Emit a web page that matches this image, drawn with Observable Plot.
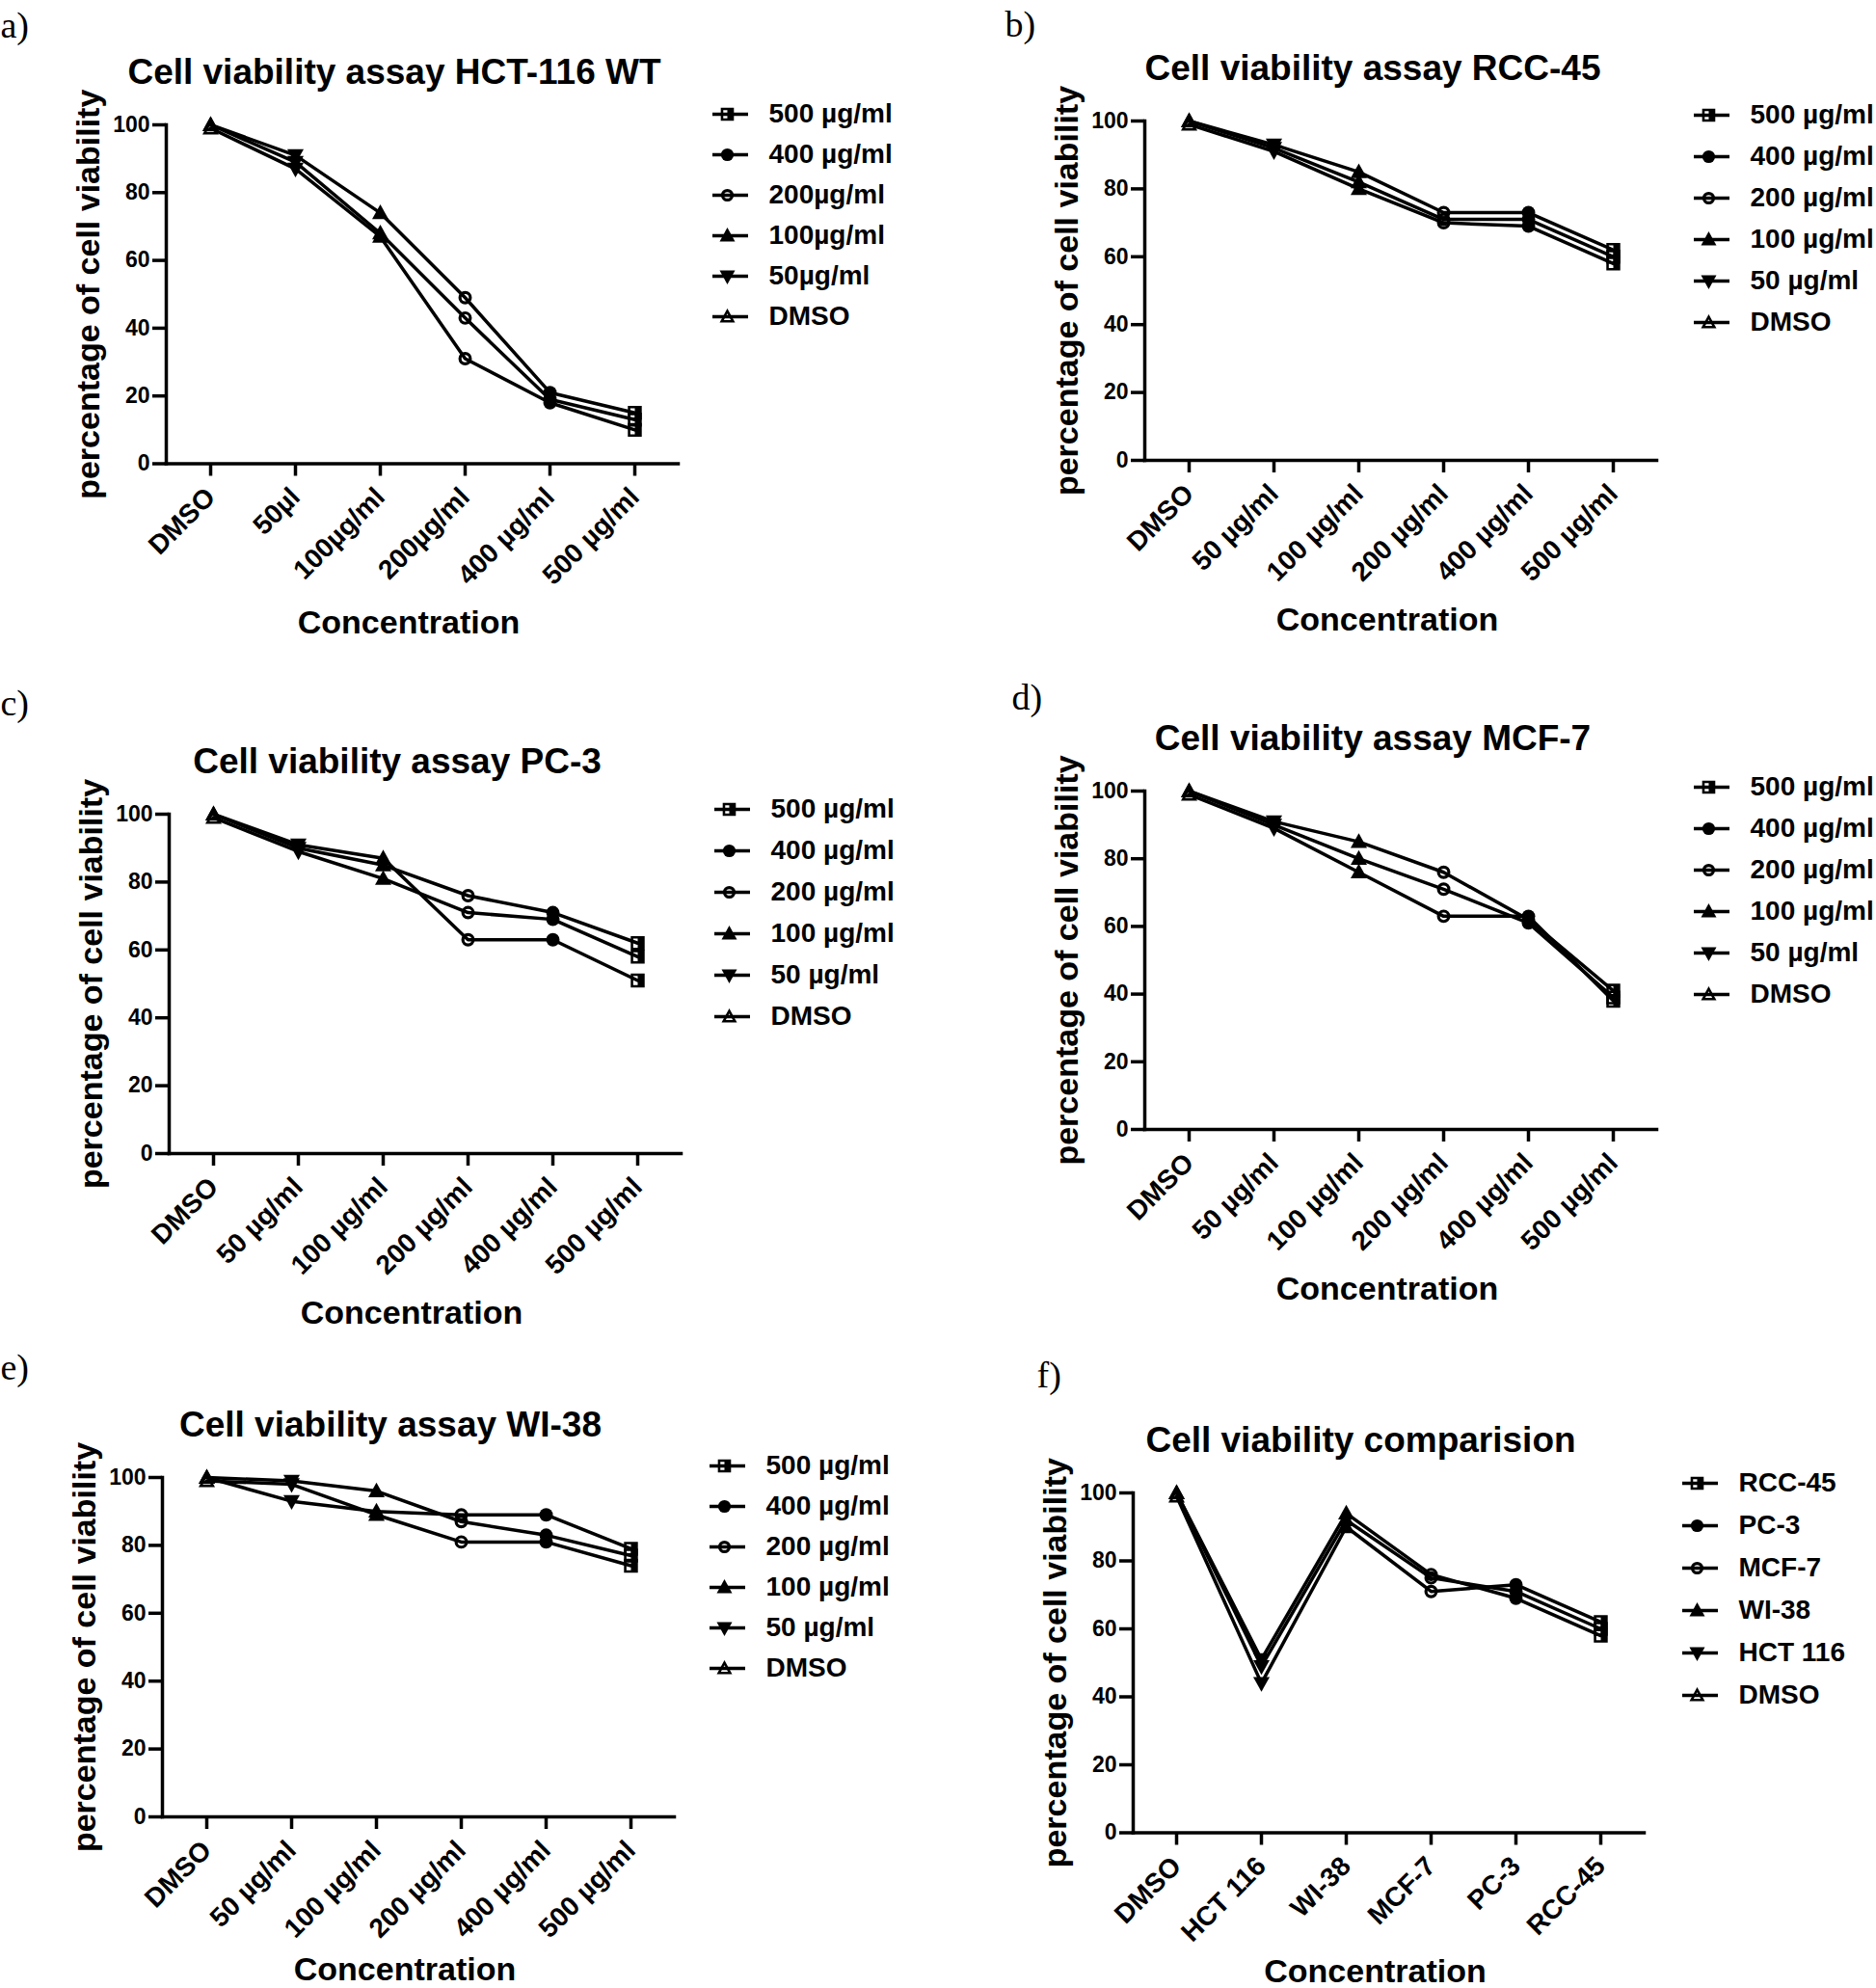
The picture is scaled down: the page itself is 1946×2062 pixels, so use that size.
<!DOCTYPE html>
<html><head><meta charset="utf-8">
<script src="https://cdn.jsdelivr.net/npm/d3@7"></script>
<script src="https://cdn.jsdelivr.net/npm/@observablehq/plot@0.6"></script>
<style>
html,body{margin:0;padding:0;background:#fff;overflow:hidden}
#root{position:relative;width:1946px;height:2062px;overflow:hidden;background:#fff}
</style></head><body><div id="root"></div>
<script>
// ---------------- DATA ----------------
const yTicks = [0, 20, 40, 60, 80, 100];
const yLabel = "percentage of cell viability";
const xLabel = "Concentration";

// a) HCT-116 WT
const aTitle = "Cell viability assay HCT-116 WT";
const aCats = ["DMSO", "50µl", "100µg/ml", "200µg/ml", "400 µg/ml", "500 µg/ml"];
const aLegend = ["500 µg/ml", "400 µg/ml", "200µg/ml", "100µg/ml", "50µg/ml", "DMSO"];
const aRep1 = [100, 91, 74, 49, 21, 15];
const aRep2 = [100, 89, 68, 43, 19, 13];
const aRep3 = [99, 87, 67, 31, 18, 10];

// b) RCC-45
const bTitle = "Cell viability assay RCC-45";
const bCats = ["DMSO", "50 µg/ml", "100 µg/ml", "200 µg/ml", "400 µg/ml", "500 µg/ml"];
const bLegend = ["500 µg/ml", "400 µg/ml", "200 µg/ml", "100 µg/ml", "50 µg/ml", "DMSO"];
const bRep1 = [100, 93, 85, 73, 73, 62];
const bRep2 = [100, 92, 82, 71, 71, 60];
const bRep3 = [99, 91, 80, 70, 69, 58];

// c) PC-3
const cTitle = "Cell viability assay PC-3";
const cCats = ["DMSO", "50 µg/ml", "100 µg/ml", "200 µg/ml", "400 µg/ml", "500 µg/ml"];
const cLegend = ["500 µg/ml", "400 µg/ml", "200 µg/ml", "100 µg/ml", "50 µg/ml", "DMSO"];
const cRep1 = [100, 91, 87, 63, 63, 51];
const cRep2 = [100, 90, 85, 76, 71, 62];
const cRep3 = [99, 89, 81, 71, 69, 58];

// d) MCF-7
const dTitle = "Cell viability assay MCF-7";
const dCats = ["DMSO", "50 µg/ml", "100 µg/ml", "200 µg/ml", "400 µg/ml", "500 µg/ml"];
const dLegend = ["500 µg/ml", "400 µg/ml", "200 µg/ml", "100 µg/ml", "50 µg/ml", "DMSO"];
const dRep1 = [100, 91, 85, 76, 62, 41];
const dRep2 = [100, 90, 80, 71, 61, 39];
const dRep3 = [99, 89, 76, 63, 63, 38];

// e) WI-38
const eTitle = "Cell viability assay WI-38";
const eCats = ["DMSO", "50 µg/ml", "100 µg/ml", "200 µg/ml", "400 µg/ml", "500 µg/ml"];
const eLegend = ["500 µg/ml", "400 µg/ml", "200 µg/ml", "100 µg/ml", "50 µg/ml", "DMSO"];
const eRep1 = [100, 99, 96, 87, 83, 77];
const eRep2 = [100, 93, 90, 89, 89, 79];
const eRep3 = [99, 98, 89, 81, 81, 74];

// f) comparison
const fTitle = "Cell viability comparision";
const fCats = ["DMSO", "HCT 116", "WI-38", "MCF-7", "PC-3", "RCC-45"];
const fLegend = ["RCC-45", "PC-3", "MCF-7", "WI-38", "HCT 116", "DMSO"];
const fRep1 = [100, 51, 94, 76, 69, 58];
const fRep2 = [100, 49, 92, 75, 71, 60];
const fRep3 = [99, 44, 90, 71, 73, 62];

// ---------------- SYMBOLS ----------------
const T = 3.2;
function poly(ctx, pts) { ctx.moveTo(pts[0][0], pts[0][1]); for (let k = 1; k < pts.length; k++) ctx.lineTo(pts[k][0], pts[k][1]); ctx.closePath(); }
function dist(P, Q) { return Math.hypot(P[0] - Q[0], P[1] - Q[1]); }
function tri(r, up) { return up ? [[0, -1.05 * r], [r, 0.75 * r], [-r, 0.75 * r]] : [[0, 1.05 * r], [-r, -0.75 * r], [r, -0.75 * r]]; }
function insetTri(pts, t) {
  const [A, B, C] = pts;
  const a = dist(B, C), b = dist(A, C), c = dist(A, B), p = a + b + c;
  const I = [(a * A[0] + b * B[0] + c * C[0]) / p, (a * A[1] + b * B[1] + c * C[1]) / p];
  const area = Math.abs((B[0] - A[0]) * (C[1] - A[1]) - (C[0] - A[0]) * (B[1] - A[1])) / 2;
  const k = Math.max(0, 1 - t / (2 * area / p));
  return pts.map(P => [I[0] + (P[0] - I[0]) * k, I[1] + (P[1] - I[1]) * k]);
}
const rad = size => Math.sqrt(size / Math.PI);
const symOpenTri = {draw(ctx, size) { const o = tri(rad(size), true); poly(ctx, o); poly(ctx, insetTri(o, T * 0.8).reverse()); }};
const symTriDown = {draw(ctx, size) { poly(ctx, tri(rad(size), false)); }};
const symTriUp = {draw(ctx, size) { poly(ctx, tri(rad(size), true)); }};
const symOpenCircle = {draw(ctx, size) { const r = rad(size) * 0.82; ctx.moveTo(r, 0); ctx.arc(0, 0, r, 0, 2 * Math.PI); ctx.moveTo(r - T, 0); ctx.arc(0, 0, r - T, 0, 2 * Math.PI, true); }};
const symCircle = {draw(ctx, size) { const r = rad(size) * 0.82; ctx.moveTo(r, 0); ctx.arc(0, 0, r, 0, 2 * Math.PI); }};
const symHalfSquare = {draw(ctx, size) { const r = rad(size) * 0.85; poly(ctx, [[-r, -r], [r, -r], [r, r], [-r, r]]); poly(ctx, [[-r + T * 0.8, -r + T * 0.8], [-r + T * 0.8, r - T * 0.8], [0, r - T * 0.8], [0, -r + T * 0.8]]); }};
const SYMS = [symOpenTri, symTriDown, symTriUp, symOpenCircle, symCircle, symHalfSquare];

const FONT = "'Liberation Sans', Arial, Helvetica, sans-serif";
const baseStyle = {background: "transparent", overflow: "visible", color: "black", fontFamily: FONT, fontWeight: "bold", maxWidth: "none"};
const root = document.getElementById("root");

function panel(cfg) {
  const {cats, legend, reps, title, letter, ax, ae, yt, yb, ldx, ldy, xdy, legX, legY0, legY1} = cfg;
  const rows = [];
  reps.forEach((vals, r) => vals.forEach((v, i) => rows.push({cat: cats[i], v, rep: r})));
  const ML = 190, MT = 170, MR = 40, MB = 210;
  const W = ae - ax, H = yb - yt;
  const p = Plot.plot({
    width: W + ML + MR, height: H + MT + MB,
    marginLeft: ML, marginRight: MR, marginTop: MT, marginBottom: MB,
    style: baseStyle,
    x: {type: "point", domain: cats, padding: 0.5, label: null},
    y: {domain: [0, 100], label: null},
    symbol: {domain: cats, range: SYMS},
    marks: [
      Plot.frame({anchor: "left", strokeWidth: 3.5, stroke: "black"}),
      Plot.frame({anchor: "bottom", strokeWidth: 3.5, stroke: "black"}),
      Plot.axisY({ticks: yTicks, tickSize: 14, tickPadding: 3, fontSize: 23, strokeWidth: 3.5, label: null}),
      Plot.axisX({tickRotate: -45, tickSize: 13, tickPadding: 17, fontSize: 28, strokeWidth: 3.5, label: null}),
      Plot.line(rows, {x: "cat", y: "v", z: "rep", stroke: "black", strokeWidth: 3.5, strokeLinejoin: "round"}),
      Plot.dot(rows, {x: "cat", y: "v", symbol: "cat", r: 8.5, fill: "black", stroke: "none"}),
      Plot.text([title], {text: d => d, frameAnchor: "top", textAnchor: "middle", dx: -29, dy: -43, lineAnchor: "bottom", fontSize: 37}),
      Plot.text([xLabel], {text: d => d, frameAnchor: "bottom", textAnchor: "middle", dx: -14, dy: xdy, lineAnchor: "bottom", fontSize: 34}),
      Plot.text([yLabel], {text: d => d, frameAnchor: "left", textAnchor: "middle", rotate: -90, dx: -70, lineAnchor: "bottom", fontSize: 34}),
      Plot.text([letter], {text: d => d, frameAnchor: "top-left", textAnchor: "start", dx: ldx, dy: ldy, lineAnchor: "bottom", fontSize: 38, fontWeight: "normal", fontFamily: "'Liberation Serif', 'Times New Roman', serif"})
    ]
  });
  p.style.position = "absolute";
  p.style.left = (ax - ML) + "px";
  p.style.top = (yt - MT) + "px";
  root.appendChild(p);

  // legend
  const legRows = legend.map((label, j) => ({label, cat: cats[cats.length - 1 - j]}));
  const LM = 22;
  const lg = Plot.plot({
    width: 320, height: (legY1 - legY0) + 2 * LM,
    margin: 0,
    style: baseStyle,
    x: {domain: [0, 1], range: [0, 37], axis: null},
    y: {type: "point", domain: legend, range: [LM, LM + legY1 - legY0], padding: 0, axis: null},
    symbol: {domain: cats, range: SYMS},
    marks: [
      Plot.ruleY(legRows, {y: "label", x1: 0, x2: 1, stroke: "black", strokeWidth: 3.5}),
      Plot.dot(legRows, {x: 0.405, y: "label", symbol: "cat", r: 8, fill: "black", stroke: "none"}),
      Plot.text(legRows, {x: 1, y: "label", text: "label", dx: 21, textAnchor: "start", fontSize: 28})
    ]
  });
  lg.style.position = "absolute";
  lg.style.left = (legX - 15) + "px";
  lg.style.top = (legY0 - LM) + "px";
  root.appendChild(lg);
}

panel({cats: aCats, legend: aLegend, reps: [aRep1, aRep2, aRep3], title: aTitle, letter: "a)",
  ax: 172, ae: 703, yt: 128.5, yb: 480, ldx: -172, ldy: -90.5, xdy: 176, legX: 754, legY0: 117, legY1: 329});
panel({cats: bCats, legend: bLegend, reps: [bRep1, bRep2, bRep3], title: bTitle, letter: "b)",
  ax: 1187, ae: 1718, yt: 125, yb: 477, ldx: -145, ldy: -88, xdy: 176, legX: 1772, legY0: 117, legY1: 336});
panel({cats: cCats, legend: cLegend, reps: [cRep1, cRep2, cRep3], title: cTitle, letter: "c)",
  ax: 175, ae: 706, yt: 844, yb: 1196, ldx: -175, ldy: -103, xdy: 176, legX: 756, legY0: 837, legY1: 1055});
panel({cats: dCats, legend: dLegend, reps: [dRep1, dRep2, dRep3], title: dTitle, letter: "d)",
  ax: 1187, ae: 1718, yt: 820, yb: 1171, ldx: -138, ldy: -85, xdy: 176, legX: 1772, legY0: 815, legY1: 1032});
panel({cats: eCats, legend: eLegend, reps: [eRep1, eRep2, eRep3], title: eTitle, letter: "e)",
  ax: 168, ae: 699, yt: 1532, yb: 1884, ldx: -168, ldy: -102, xdy: 169, legX: 751, legY0: 1518, legY1: 1731});
panel({cats: fCats, legend: fLegend, reps: [fRep1, fRep2, fRep3], title: fTitle, letter: "f)",
  ax: 1175, ae: 1705, yt: 1547.5, yb: 1900, ldx: -100, ldy: -110, xdy: 155, legX: 1760, legY0: 1537, legY1: 1758});
</script></body></html>
